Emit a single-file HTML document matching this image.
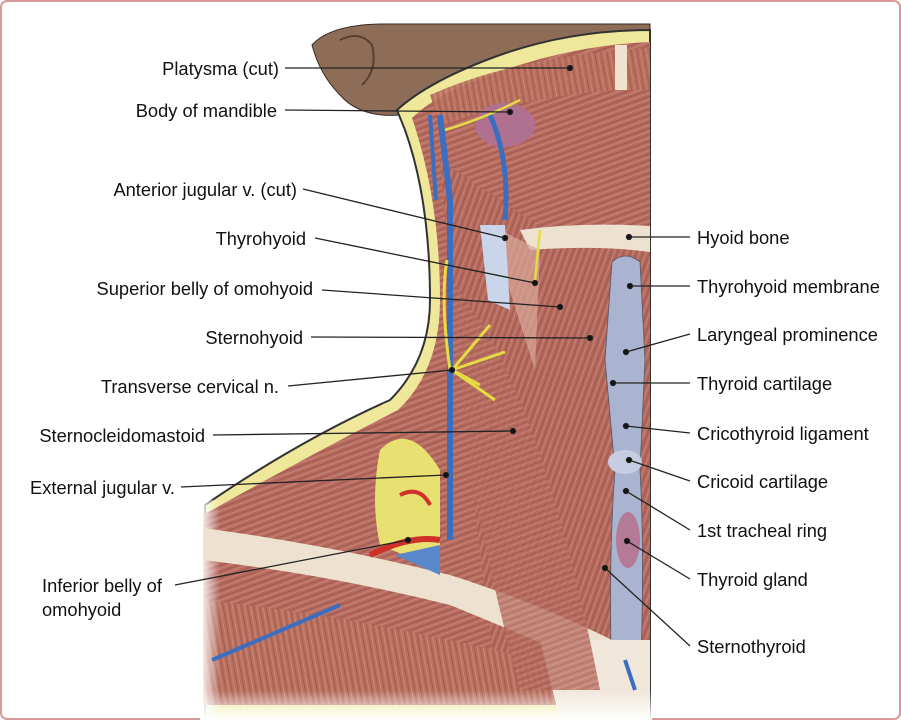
<!DOCTYPE html>
<html><head><meta charset="utf-8"><style>
html,body{margin:0;padding:0;background:#fff;}
#w{position:relative;width:901px;height:720px;overflow:hidden;}
svg{position:absolute;left:0;top:0;}
text{font-family:"Liberation Sans",sans-serif;font-size:18.3px;fill:#111;}
</style></head><body><div id="w">
<svg width="901" height="720" viewBox="0 0 901 720">
<defs>
<pattern id="m" width="6" height="6" patternUnits="userSpaceOnUse" patternTransform="rotate(70)">
<rect width="6" height="6" fill="#b76c60"/><rect width="1.2" height="6" fill="#8e4a42" opacity=".5"/><rect x="3" width="1" height="6" fill="#d99a8c" opacity=".5"/></pattern>
<pattern id="m2" width="6" height="6" patternUnits="userSpaceOnUse" patternTransform="rotate(20)">
<rect width="6" height="6" fill="#b56a5e"/><rect width="1.2" height="6" fill="#8e4a42" opacity=".5"/><rect x="3" width="1" height="6" fill="#d99a8c" opacity=".5"/></pattern>
<pattern id="m3" width="6" height="6" patternUnits="userSpaceOnUse" patternTransform="rotate(-10)">
<rect width="6" height="6" fill="#b9705f"/><rect width="1.2" height="6" fill="#8e4a42" opacity=".5"/><rect x="3" width="1" height="6" fill="#d99a8c" opacity=".5"/></pattern>
<linearGradient id="fade" x1="0" y1="0" x2="0" y2="1"><stop offset="0" stop-color="#fff" stop-opacity="0"/><stop offset="1" stop-color="#fff"/></linearGradient>
<linearGradient id="fadeL" x1="0" y1="0" x2="1" y2="0"><stop offset="0" stop-color="#fff"/><stop offset="1" stop-color="#fff" stop-opacity="0"/></linearGradient>
</defs>
<rect x="1" y="1" width="899" height="718" rx="6" fill="none" stroke="#d79a98" stroke-width="2"/>
<!-- head -->
<path d="M312,45 Q330,25 380,24 L650,24 L650,60 Q560,60 470,100 Q445,110 420,120 L400,115 Q360,118 340,95 Q320,75 312,45Z" fill="#8d6d58" stroke="#3a2a20"/>
<path d="M340,40 Q360,30 372,45 Q378,70 362,85" fill="none" stroke="#5a4030" stroke-width="2"/>
<!-- yellow neck edge -->
<path d="M397,110 Q430,80 500,55 Q570,30 650,30 L650,720 L205,720 L205,505 Q300,440 390,400 Q430,360 430,300 Q430,200 405,130Z" fill="#efe79a" stroke="#333" stroke-width="2"/>
<!-- muscle mass -->
<path d="M412,118 Q440,90 510,68 Q580,45 650,42 L650,700 L203,700 L203,515 Q310,455 398,410 Q440,370 440,300 Q440,200 412,118Z" fill="url(#m)"/>
<path d="M440,160 L560,240 L650,245 L650,700 L500,700 Q470,500 440,160Z" fill="url(#m2)"/>
<path d="M203,600 Q400,620 650,690 L650,705 L203,705Z" fill="url(#m3)"/>
<rect x="200" y="500" width="20" height="220" fill="url(#fadeL)"/>
<!-- platysma band -->
<path d="M430,95 Q520,55 650,48 L650,90 Q560,88 440,125Z" fill="url(#m3)" opacity=".9"/>
<rect x="615" y="45" width="12" height="45" fill="#efe3cf"/>
<!-- gland -->
<ellipse cx="505" cy="125" rx="30" ry="22" fill="#b07090"/>
<!-- hyoid -->
<path d="M520,230 Q580,222 650,226 L650,252 Q600,245 530,250Z" fill="#ece2cf"/>
<!-- larynx -->
<path d="M612,262 Q625,250 640,262 L645,360 L640,470 Q645,560 640,690 L612,690 Q608,560 615,470 L605,360Z" fill="#aab4d0" stroke="#556" stroke-width=".8"/>
<ellipse cx="625" cy="462" rx="17" ry="12" fill="#c6cde2"/>
<ellipse cx="628" cy="540" rx="12" ry="28" fill="#b57a95"/>
<!-- clavicle band -->
<path d="M203,528 Q330,545 450,575 Q560,610 650,660 L650,690 Q560,650 450,605 Q330,575 203,560Z" fill="#ece2cf"/>
<path d="M540,640 L650,640 L650,720 L560,720Z" fill="#f0e7da"/>
<!-- posterior triangle contents -->
<path d="M380,450 Q410,420 440,470 L440,570 L380,545 Q370,500 380,450Z" fill="#e8e070"/>
<path d="M370,555 Q410,535 440,540" stroke="#d0302a" stroke-width="6" fill="none"/>
<path d="M395,555 L440,575 L440,545Z" fill="#5a88cc"/>
<path d="M400,495 Q420,485 430,505" stroke="#d0302a" stroke-width="4" fill="none"/>
<!-- SCM highlight -->
<path d="M450,280 Q540,380 600,690 L520,690 Q470,500 440,300Z" fill="url(#m)" opacity=".8"/>
<!-- infrahyoid strap -->
<path d="M500,230 L540,250 L535,370 L500,260Z" fill="#d8a89a" opacity=".7"/>
<path d="M480,225 L505,225 L510,310 L488,300Z" fill="#c9d6ea"/>
<!-- veins -->
<path d="M440,115 L450,200 L450,540" stroke="#3b6ec0" stroke-width="6" fill="none"/>
<path d="M430,115 L436,200" stroke="#3b6ec0" stroke-width="4" fill="none"/>
<path d="M490,115 Q510,160 505,220" stroke="#3b6ec0" stroke-width="5" fill="none"/>
<path d="M340,605 L212,660" stroke="#3b6ec0" stroke-width="4" fill="none"/>
<path d="M625,660 L635,690" stroke="#3b6ec0" stroke-width="4" fill="none"/>
<!-- nerves -->
<path d="M452,370 L490,325 M452,370 L505,352 M452,370 L495,400 M452,370 L480,385 M447,260 Q440,300 450,370" stroke="#e4dc40" stroke-width="3" fill="none"/>
<path d="M445,130 Q480,120 520,100 M540,230 L535,280" stroke="#e4dc40" stroke-width="2.5" fill="none"/>
<rect x="200" y="690" width="452" height="30" fill="url(#fade)"/>
<!-- leaders -->
<g stroke="#222" stroke-width="1.3" fill="#111">
<line x1="285" y1="68" x2="570" y2="68"/><circle cx="570" cy="68" r="2.5"/>
<line x1="285" y1="110" x2="510" y2="112"/><circle cx="510" cy="112" r="2.5"/>
<line x1="303" y1="189" x2="505" y2="238"/><circle cx="505" cy="238" r="2.5"/>
<line x1="315" y1="238" x2="535" y2="283"/><circle cx="535" cy="283" r="2.5"/>
<line x1="322" y1="290" x2="560" y2="307"/><circle cx="560" cy="307" r="2.5"/>
<line x1="311" y1="337" x2="590" y2="338"/><circle cx="590" cy="338" r="2.5"/>
<line x1="288" y1="386" x2="452" y2="370"/><circle cx="452" cy="370" r="2.5"/>
<line x1="213" y1="435" x2="513" y2="431"/><circle cx="513" cy="431" r="2.5"/>
<line x1="181" y1="487" x2="446" y2="475"/><circle cx="446" cy="475" r="2.5"/>
<line x1="175" y1="585" x2="408" y2="540"/><circle cx="408" cy="540" r="2.5"/>
<line x1="629" y1="237" x2="690" y2="237"/><circle cx="629" cy="237" r="2.5"/>
<line x1="630" y1="286" x2="690" y2="286"/><circle cx="630" cy="286" r="2.5"/>
<line x1="626" y1="352" x2="690" y2="334"/><circle cx="626" cy="352" r="2.5"/>
<line x1="613" y1="383" x2="690" y2="383"/><circle cx="613" cy="383" r="2.5"/>
<line x1="626" y1="426" x2="690" y2="433"/><circle cx="626" cy="426" r="2.5"/>
<line x1="629" y1="460" x2="690" y2="481"/><circle cx="629" cy="460" r="2.5"/>
<line x1="626" y1="491" x2="690" y2="530"/><circle cx="626" cy="491" r="2.5"/>
<line x1="627" y1="541" x2="690" y2="579"/><circle cx="627" cy="541" r="2.5"/>
<line x1="605" y1="568" x2="690" y2="646"/><circle cx="605" cy="568" r="2.5"/>
</g>
<g text-anchor="end">
<text x="279" y="75">Platysma (cut)</text>
<text x="277" y="117">Body of mandible</text>
<text x="297" y="196">Anterior jugular v. (cut)</text>
<text x="306" y="245">Thyrohyoid</text>
<text x="313" y="295">Superior belly of omohyoid</text>
<text x="303" y="344">Sternohyoid</text>
<text x="279" y="393">Transverse cervical n.</text>
<text x="205" y="442">Sternocleidomastoid</text>
<text x="175" y="494">External jugular v.</text>
</g>
<text x="42" y="592">Inferior belly of</text>
<text x="42" y="616">omohyoid</text>
<text x="697" y="244">Hyoid bone</text>
<text x="697" y="293">Thyrohyoid membrane</text>
<text x="697" y="341">Laryngeal prominence</text>
<text x="697" y="390">Thyroid cartilage</text>
<text x="697" y="440">Cricothyroid ligament</text>
<text x="697" y="488">Cricoid cartilage</text>
<text x="697" y="537">1st tracheal ring</text>
<text x="697" y="586">Thyroid gland</text>
<text x="697" y="653">Sternothyroid</text>
</svg></div></body></html>
